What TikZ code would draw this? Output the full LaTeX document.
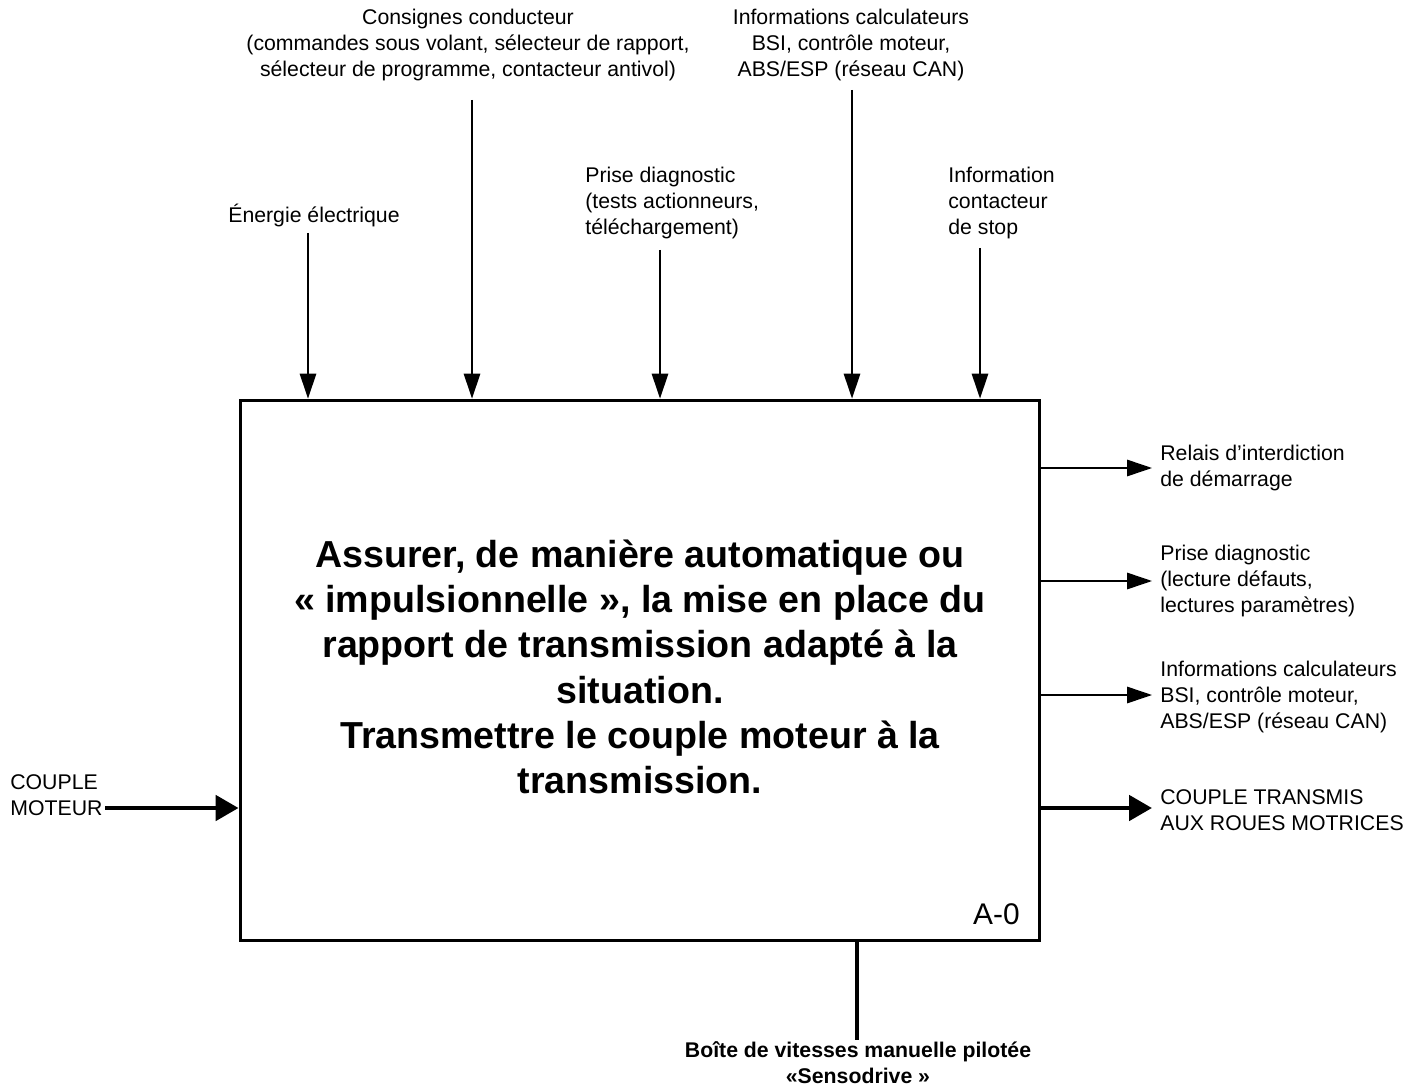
\documentclass[tikz,border=0pt]{standalone}
\usepackage{fontspec}
\setmainfont{Liberation Sans}
\usepackage{tikz}
\usetikzlibrary{arrows.meta, positioning}

\begin{document}
\begin{tikzpicture}[
    x=0.02cm, y=-0.02cm,
    fonction/.style={draw=black, line width=1.7pt, rectangle, minimum width=16cm, minimum height=10.82cm, inner sep=0pt},
    lbl/.style={font=\fontsize{12.1}{14.7}\selectfont, inner sep=0pt},
    fleche/.style={-{Triangle[length=5mm, width=3.3mm]}, line width=0.85pt},
    flux/.style={-{Triangle[length=4.6mm, width=5mm]}, line width=2.8pt}
]
\useasboundingbox (0,0) rectangle (1422,1087);

% boite A-0
\node[fonction] (box) at (640,670.5) {};
\node[font=\fontsize{21.4}{25.8}\selectfont\bfseries, align=center] (titre) at (640,667)
  {Assurer, de manière automatique ou\\ « impulsionnelle », la mise en place du\\ rapport de transmission adapté à la\\ situation.\\ Transmettre le couple moteur à la\\ transmission.};
\node[font=\fontsize{17}{20}\selectfont, anchor=south east, inner sep=0pt] (ref) at (1020,925) {A-0};

% entrees du haut
\node[lbl] (energie) at (314,215) {Énergie électrique};
\node[lbl, align=center] (consignes) at (468,45) {Consignes conducteur\\ (commandes sous volant, sélecteur de rapport,\\ sélecteur de programme, contacteur antivol)};
\node[lbl, anchor=west, align=left] (prise) at (585,203) {Prise diagnostic\\ (tests actionneurs,\\ téléchargement)};
\node[lbl, align=center] (calc) at (851,45) {Informations calculateurs\\ BSI, contrôle moteur,\\ ABS/ESP (réseau CAN)};
\node[lbl, anchor=west, align=left] (stop) at (948,203) {Information\\ contacteur\\ de stop};

\coordinate (e1) at (308,233);
\coordinate (e2) at (472,100);
\coordinate (e3) at (660,250);
\coordinate (e4) at (852,90);
\coordinate (e5) at (980,248);

\draw[fleche] (e1) -- (e1 |- box.north);
\draw[fleche] (e2) -- (e2 |- box.north);
\draw[fleche] (e3) -- (e3 |- box.north);
\draw[fleche] (e4) -- (e4 |- box.north);
\draw[fleche] (e5) -- (e5 |- box.north);

% sorties
\node[lbl, anchor=west, align=left] (relais) at (1160,468) {Relais d’interdiction\\ de démarrage};
\node[lbl, anchor=west, align=left] (diag) at (1160,581) {Prise diagnostic\\ (lecture défauts,\\ lectures paramètres)};
\node[lbl, anchor=west, align=left] (calcs) at (1160,697) {Informations calculateurs\\ BSI, contrôle moteur,\\ ABS/ESP (réseau CAN)};
\node[lbl, anchor=west, align=left] (roues) at (1160,810) {COUPLE TRANSMIS\\ AUX ROUES MOTRICES};

\coordinate (s1) at (1152,468);
\coordinate (s2) at (1152,581);
\coordinate (s3) at (1152,695);
\coordinate (s4) at (1152,808);

\draw[fleche] (s1 -| box.east) -- (s1);
\draw[fleche] (s2 -| box.east) -- (s2);
\draw[fleche] (s3 -| box.east) -- (s3);
\draw[flux] (s4 -| box.east) -- (s4);

% entree matiere d'oeuvre
\node[lbl, anchor=west, align=left] (couple) at (10,795) {COUPLE\\ MOTEUR};
\coordinate (in) at (105,808);
\draw[flux] (in) -- (in -| box.west);

% support
\node[lbl, font=\fontsize{12.1}{14.7}\selectfont\bfseries, align=center] (support) at (858,1063) {Boîte de vitesses manuelle pilotée\\ «Sensodrive »};
\coordinate (m) at (857,1040);
\draw[line width=2.4pt] (box.south -| m) -- (m);
\end{tikzpicture}
\end{document}
